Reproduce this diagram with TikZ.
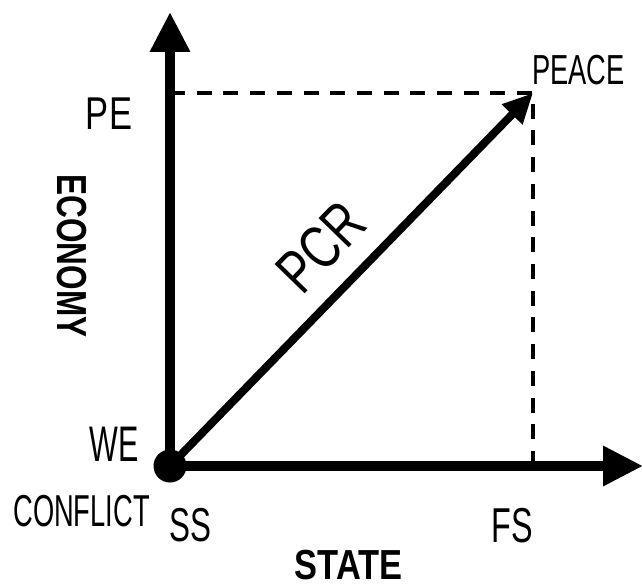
\documentclass[tikz,border=0pt]{standalone}
\usepackage{fontspec}
\setmainfont{Liberation Sans}
\usepackage{graphicx}
\usetikzlibrary{arrows.meta}
\newcommand\lbl[3]{\fontsize{#1}{#1}\selectfont\scalebox{#2}[1]{#3}}
\begin{document}
\begin{tikzpicture}[x=1pt,y=-1pt,
  axis/.style={line width=9.5pt,-{Triangle[length=40pt,width=38pt]}},
  diag/.style={line width=8pt,-{Triangle[length=30pt,width=27pt]}},
  guide/.style={line width=4pt,dash pattern=on 15pt off 11.7pt},
  txt/.style={inner sep=0pt,anchor=center}]
\useasboundingbox (0,0) rectangle (642,588);
\coordinate (O) at (170,466);
\coordinate (ytip) at (170,12);
\coordinate (xtip) at (643,466);
\coordinate (peace) at (533,93);
\coordinate (pe) at (170,93);
\coordinate (fs) at (533,466);
\draw[guide] (pe) -- (peace) -- (fs);
\draw[axis] (O) -- (ytip);
\draw[axis] (O) -- (xtip);
\draw[diag] (O) -- (peace);
\fill (O) circle (16.5pt);
\node[txt] (lPE) at (109,113.5) {\lbl{46}{0.75}{PE}};
\node[txt] (lWE) at (114.5,444) {\lbl{50}{0.61}{WE}};
\node[txt] (lCON) at (81.5,511) {\lbl{44.7}{0.61}{CONFLICT}};
\node[txt] (lSS) at (190,525.5) {\lbl{47.5}{0.66}{SS}};
\node[txt] (lFS) at (512.5,526) {\lbl{49}{0.66}{FS}};
\node[txt] (lPEACE) at (578.5,70) {\lbl{42}{0.65}{PEACE}};
\node[txt] (lSTATE) at (348.5,565) {\lbl{42}{0.82}{\bfseries STATE}};
\node[txt,rotate=-90] (lECON) at (72,256) {\lbl{42}{0.75}{\bfseries ECONOMY}};
\node[txt,rotate=45.8] (lPCR) at (321,247) {\lbl{61}{0.75}{PCR}};
\end{tikzpicture}
\end{document}
